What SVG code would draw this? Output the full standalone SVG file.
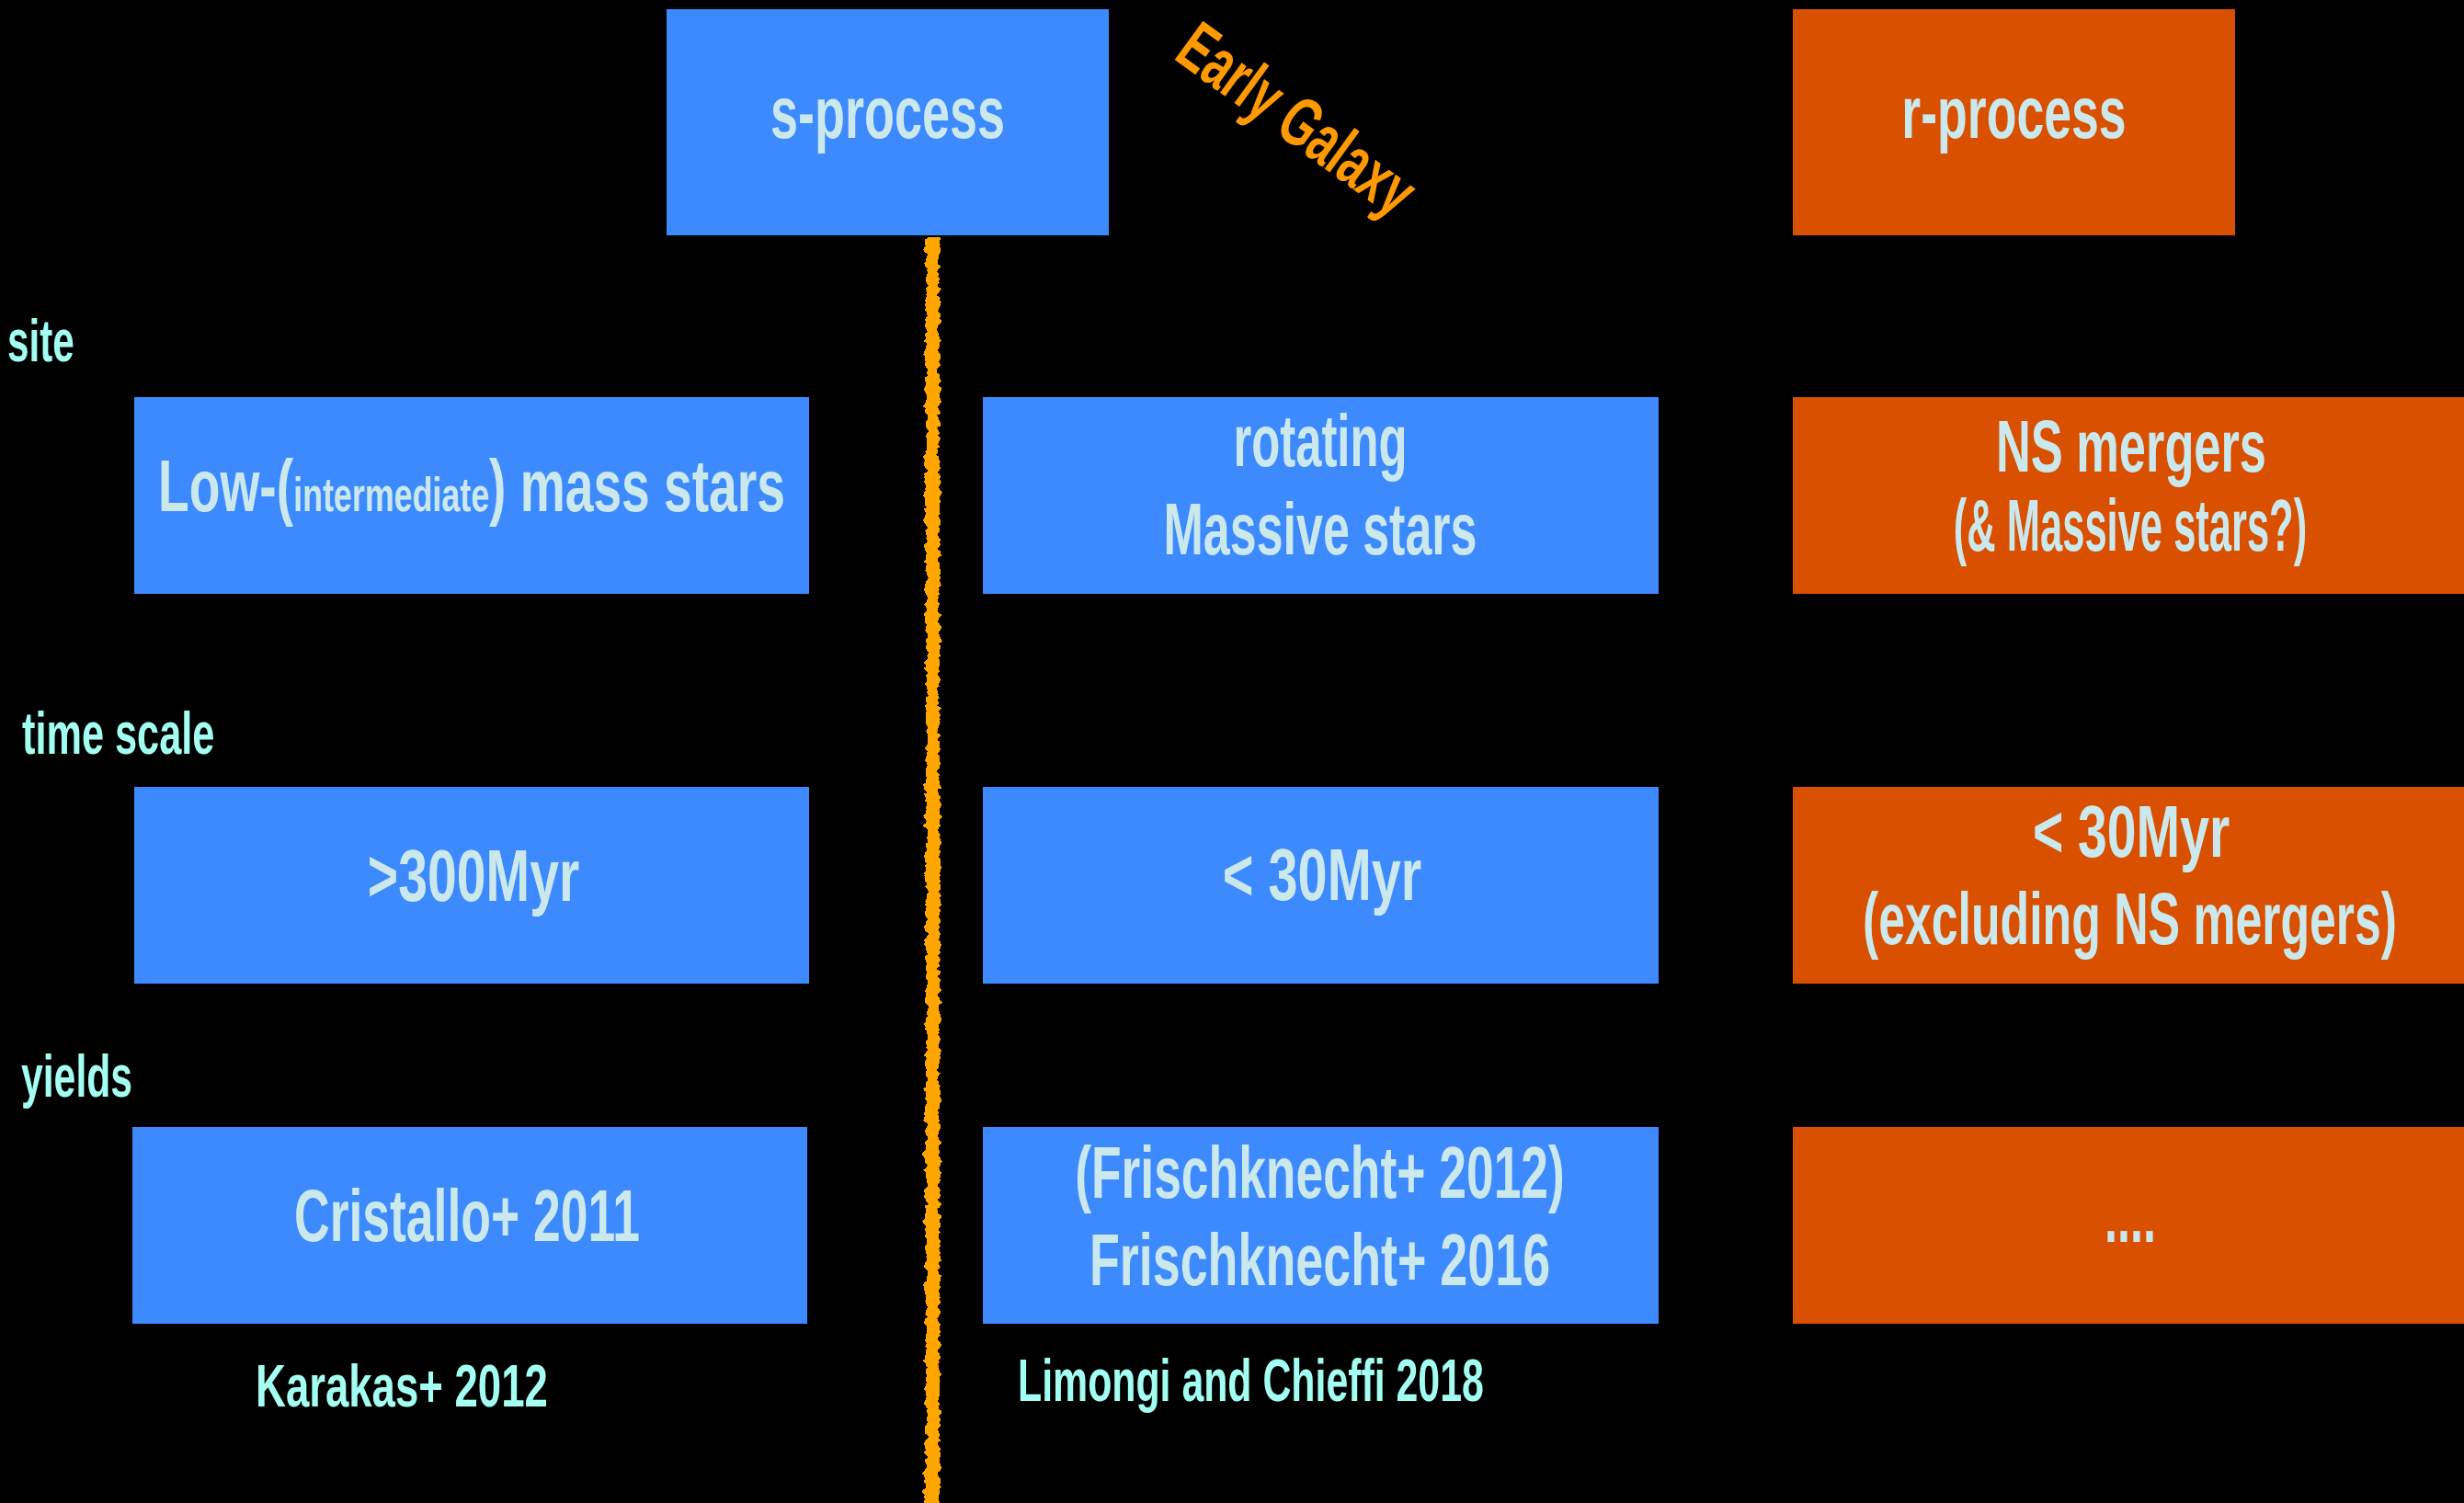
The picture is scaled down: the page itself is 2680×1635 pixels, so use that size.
<svg xmlns="http://www.w3.org/2000/svg" width="2680" height="1635" viewBox="0 0 2680 1635">
<defs>
<style>
.bx{fill:#3C8AFE}
.ox{fill:#D85000}
.t{font-family:"Liberation Sans","Roboto",sans-serif;font-weight:bold;font-size:80px;fill:#CBE8EC;text-anchor:middle}
.lb{font-family:"Liberation Sans","Roboto",sans-serif;font-weight:bold;font-size:64px;fill:#A4FFF3}
.eg{font-family:"Liberation Sans","Roboto",sans-serif;font-weight:bold;font-size:76px;fill:#FF9900}
</style>
<filter id="rough" x="-50%" y="0" width="200%" height="100%">
<feTurbulence type="fractalNoise" baseFrequency="0.08 0.15" numOctaves="2" seed="3" result="n"/>
<feDisplacementMap in="SourceGraphic" in2="n" scale="10" xChannelSelector="R" yChannelSelector="G"/>
</filter>
</defs>
<rect x="0" y="0" width="2680" height="1635" fill="#000"/>

<g id="connectors">
<rect x="1007" y="258" width="15" height="1390" fill="#FFA500" filter="url(#rough)"/>
</g>

<g id="s-process">
<rect class="bx" x="725" y="10" width="481" height="246"/>
<text class="t" transform="translate(965.5 150) scale(0.7 1)" textLength="364" lengthAdjust="spacingAndGlyphs">s-process</text>
</g>
<g id="r-process">
<rect class="ox" x="1950" y="10" width="481" height="246"/>
<text class="t" transform="translate(2190.5 150) scale(0.7 1)" textLength="349" lengthAdjust="spacingAndGlyphs">r-process</text>
</g>
<g id="early-galaxy">
<text class="eg" transform="translate(1275 63) rotate(36) scale(0.7 1)" textLength="426" lengthAdjust="spacingAndGlyphs">Early Galaxy</text>
</g>

<g id="label-site"><text class="lb" transform="translate(8 393) scale(0.7 1)" textLength="104" lengthAdjust="spacingAndGlyphs">site</text></g>
<g id="label-timescale"><text class="lb" transform="translate(24 820) scale(0.7 1)" textLength="299" lengthAdjust="spacingAndGlyphs">time scale</text></g>
<g id="label-yields"><text class="lb" transform="translate(23 1193) scale(0.7 1)" textLength="173" lengthAdjust="spacingAndGlyphs">yields</text></g>

<g id="site-low">
<rect class="bx" x="146" y="432" width="734" height="214"/>
<text class="t" transform="translate(513 556) scale(0.7 1)" textLength="974" lengthAdjust="spacingAndGlyphs">Low-(<tspan font-size="52">intermediate</tspan>) mass stars</text>
</g>
<g id="site-rotating">
<rect class="bx" x="1069" y="432" width="735" height="214"/>
<text class="t" transform="translate(1436 507) scale(0.7 1)" textLength="270" lengthAdjust="spacingAndGlyphs">rotating</text>
<text class="t" transform="translate(1436 603) scale(0.7 1)" textLength="487" lengthAdjust="spacingAndGlyphs">Massive stars</text>
</g>
<g id="site-ns">
<rect class="ox" x="1950" y="432" width="730" height="214"/>
<text class="t" transform="translate(2318 513) scale(0.7 1)" textLength="420" lengthAdjust="spacingAndGlyphs">NS mergers</text>
<text class="t" transform="translate(2317 599) scale(0.7 1)" font-size="66" textLength="549" lengthAdjust="spacingAndGlyphs">(&amp; Massive stars?)</text>
</g>

<g id="time-low">
<rect class="bx" x="146" y="856" width="734" height="214"/>
<text class="t" transform="translate(515 980) scale(0.7 1)" textLength="329" lengthAdjust="spacingAndGlyphs">&gt;300Myr</text>
</g>
<g id="time-rotating">
<rect class="bx" x="1069" y="856" width="735" height="214"/>
<text class="t" transform="translate(1438 979) scale(0.7 1)" textLength="309" lengthAdjust="spacingAndGlyphs">&lt; 30Myr</text>
</g>
<g id="time-r">
<rect class="ox" x="1950" y="856" width="730" height="214"/>
<text class="t" transform="translate(2318 932) scale(0.7 1)" textLength="306" lengthAdjust="spacingAndGlyphs">&lt; 30Myr</text>
<text class="t" transform="translate(2316.5 1027) scale(0.7 1)" textLength="830" lengthAdjust="spacingAndGlyphs">(excluding NS mergers)</text>
</g>

<g id="yields-low">
<rect class="bx" x="144" y="1226" width="734" height="214"/>
<text class="t" transform="translate(508 1350) scale(0.7 1)" textLength="537" lengthAdjust="spacingAndGlyphs">Cristallo+ 2011</text>
</g>
<g id="yields-rotating">
<rect class="bx" x="1069" y="1226" width="735" height="214"/>
<text class="t" transform="translate(1435.5 1303) scale(0.7 1)" textLength="761" lengthAdjust="spacingAndGlyphs">(Frischknecht+ 2012)</text>
<text class="t" transform="translate(1435.5 1398) scale(0.7 1)" textLength="716" lengthAdjust="spacingAndGlyphs">Frischknecht+ 2016</text>
</g>
<g id="yields-r">
<rect class="ox" x="1950" y="1226" width="730" height="214"/>
<text class="t" transform="translate(2317 1351) scale(0.7 1)" textLength="80" lengthAdjust="spacingAndGlyphs">....</text>
</g>

<g id="ref-karakas"><text class="lb" transform="translate(278 1530) scale(0.7 1)" font-size="66" textLength="454" lengthAdjust="spacingAndGlyphs">Karakas+ 2012</text></g>
<g id="ref-limongi"><text class="lb" transform="translate(1107 1524) scale(0.7 1)" textLength="724" lengthAdjust="spacingAndGlyphs">Limongi and Chieffi 2018</text></g>
</svg>
